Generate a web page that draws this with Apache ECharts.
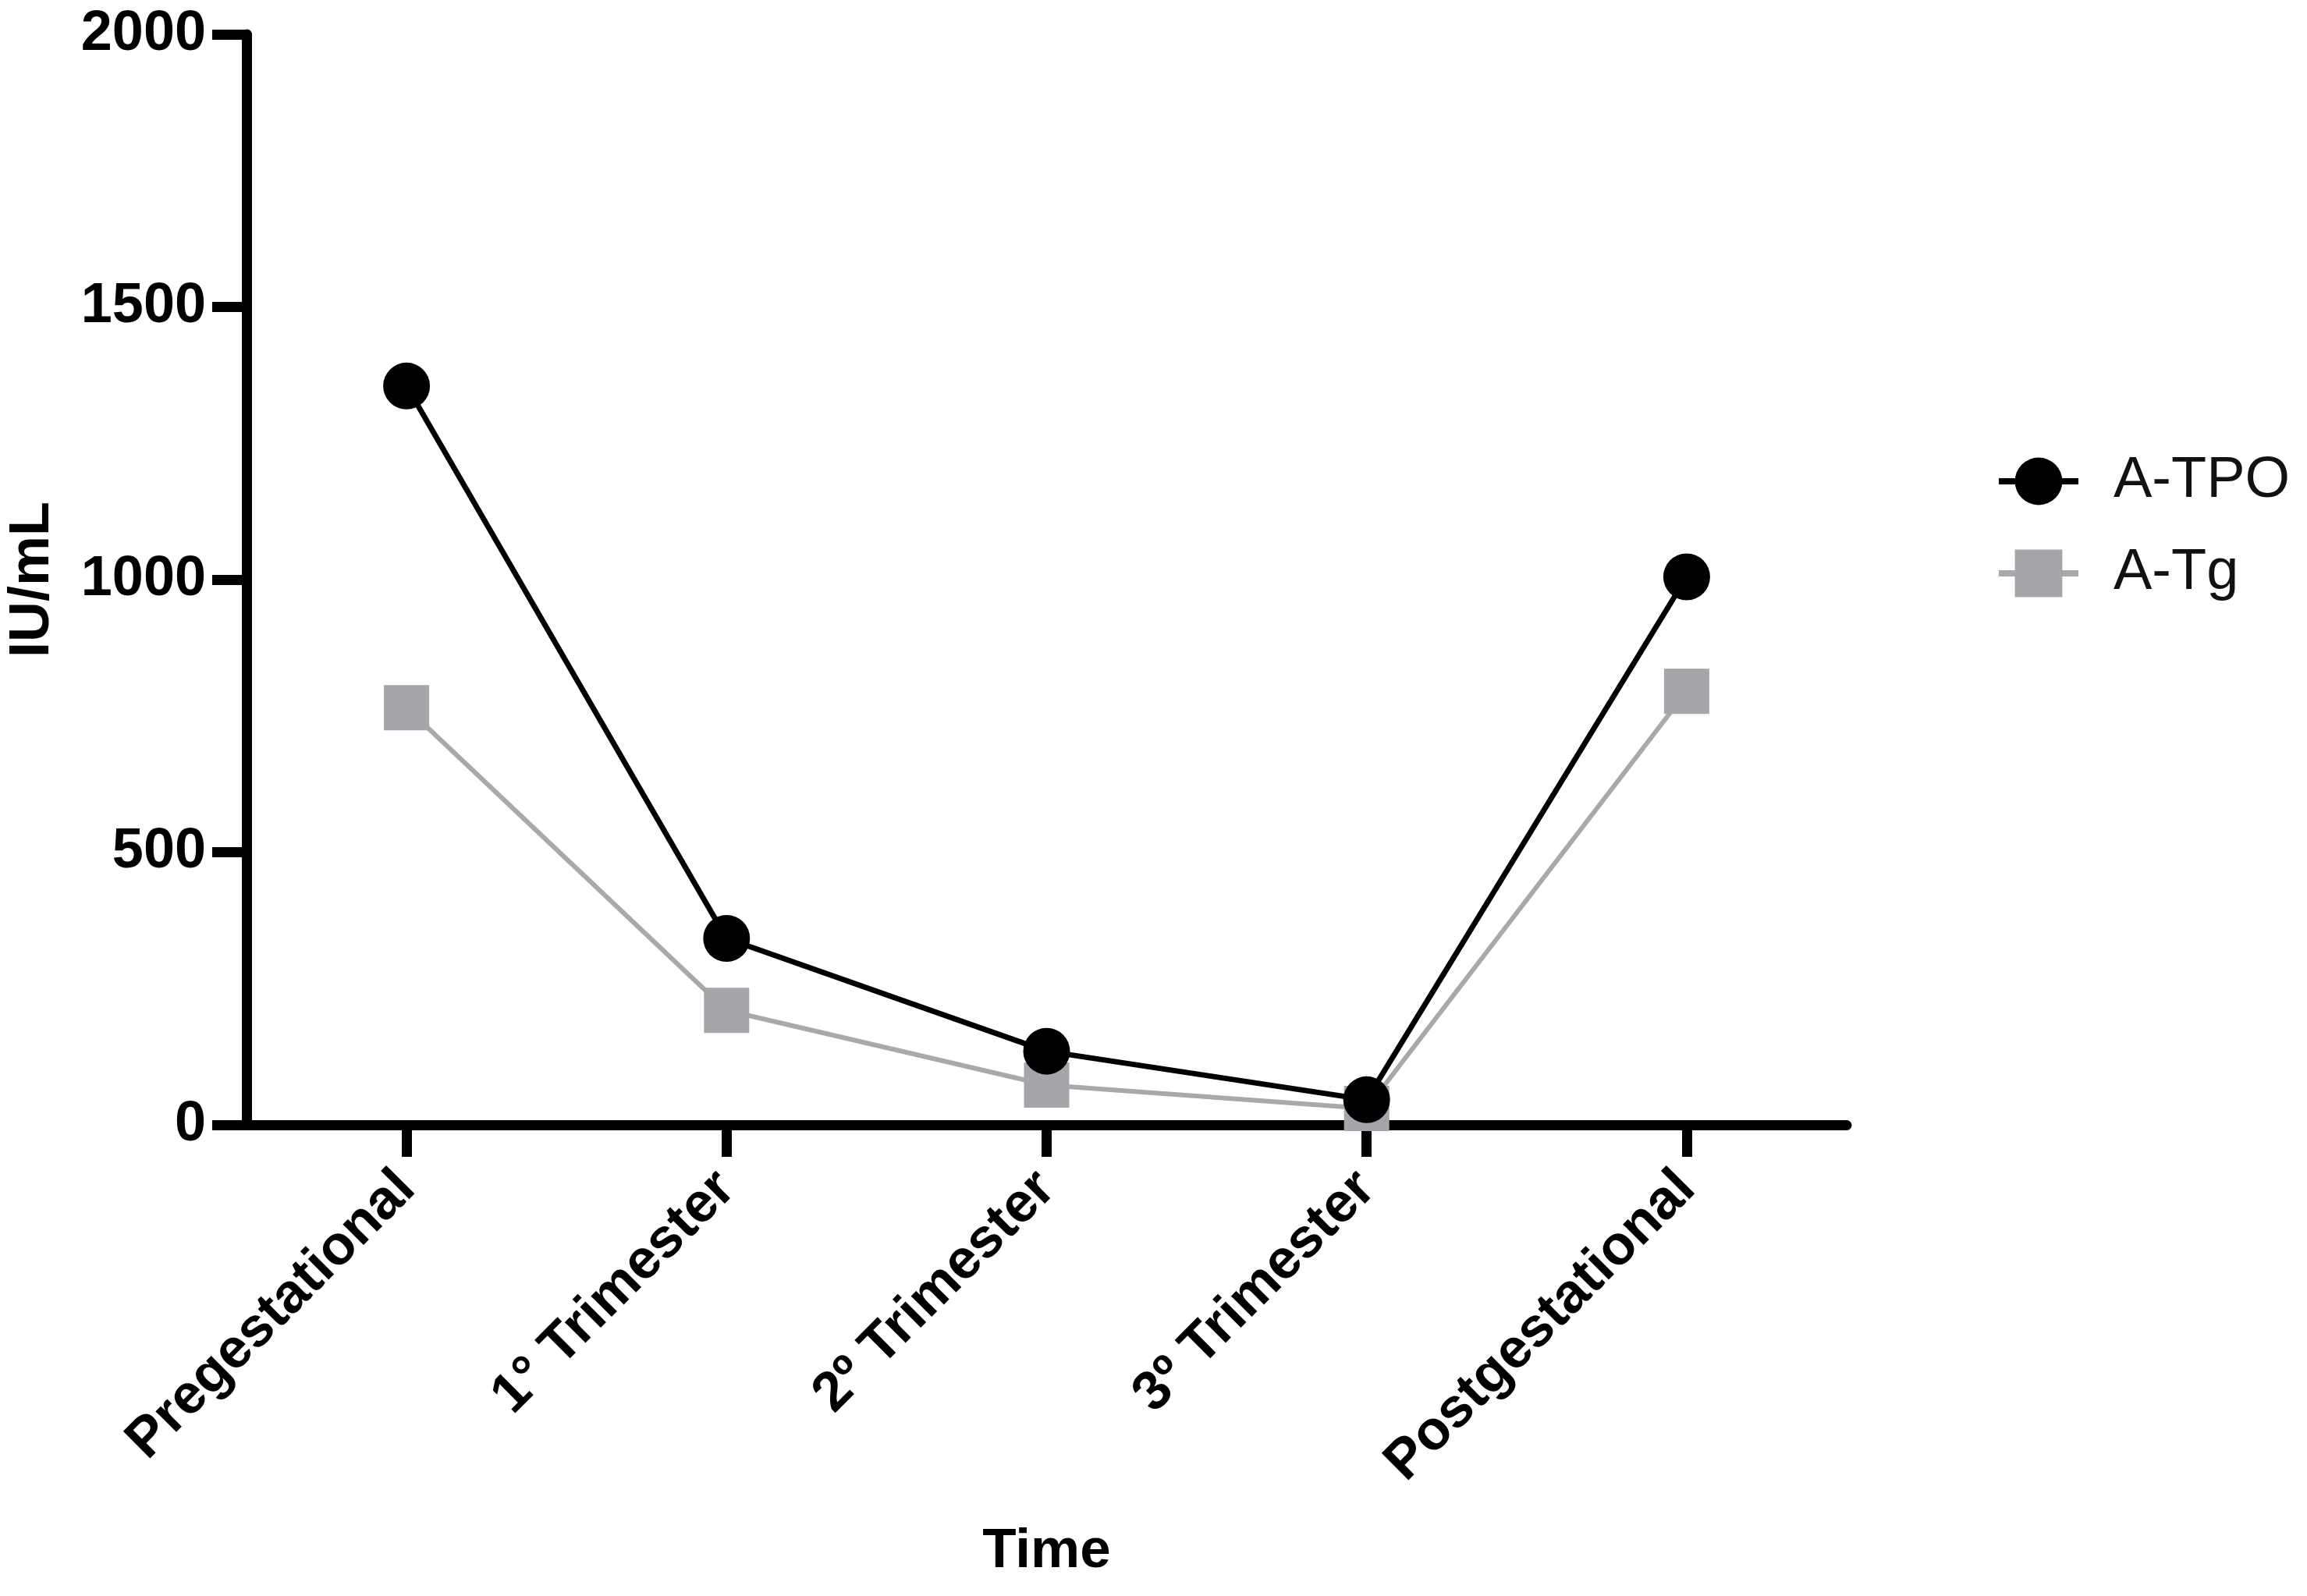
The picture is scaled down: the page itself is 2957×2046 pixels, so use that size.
<!DOCTYPE html>
<html>
<head>
<meta charset="utf-8">
<script src="https://cdn.jsdelivr.net/npm/echarts@6/dist/echarts.min.js"></script>
<style>
html,body{margin:0;padding:0;background:#fff;}
#chart{width:2957px;height:2046px;}
</style>
</head>
<body>
<div id="chart"></div>
<script>
var categories = ['Pregestational', '1\u00b0 Trimester', '2\u00ba Trimester', '3\u00ba Trimester', 'Postgestational'];
var atpo = [1355, 342, 135, 46, 1005];
var atg = [765, 210, 73, 30, 795];
var yTicks = [0, 500, 1000, 1500, 2000];

var FONT = '"Liberation Sans", Arial, Helvetica, sans-serif';
var chart = echarts.init(document.getElementById('chart'), null, {renderer: 'canvas'});
chart.setOption({
  backgroundColor: '#ffffff',
  animation: false,
  grid: {left: 316, right: 590, top: 44, bottom: 604, outerBoundsMode: 'none', containLabel: false},
  legend: {
    orient: 'vertical',
    left: 2553,
    top: 575,
    itemWidth: 102,
    itemHeight: 76,
    itemGap: 44,
    data: ['A-TPO', 'A-Tg'],
    lineStyle: {width: 8},
    textStyle: {fontFamily: FONT, fontSize: 74, color: '#111', padding: [0, 0, 0, 40]}
  },
  xAxis: {
    type: 'category',
    data: categories,
    boundaryGap: true,
    name: 'Time',
    nameLocation: 'middle',
    nameGap: 512,
    nameTextStyle: {fontFamily: FONT, fontSize: 71, fontWeight: 'bold', color: '#000'},
    axisLine: {show: true, lineStyle: {color: '#000', width: 13}},
    axisTick: {show: true, alignWithLabel: true, length: 41, lineStyle: {color: '#000', width: 13}},
    axisLabel: {rotate: 45, margin: 71, fontFamily: FONT, fontSize: 71, fontWeight: 'bold', color: '#000'},
    splitLine: {show: false}
  },
  yAxis: {
    type: 'value',
    min: yTicks[0],
    max: yTicks[yTicks.length - 1],
    interval: yTicks[1] - yTicks[0],
    name: 'IU/mL',
    nameLocation: 'middle',
    nameRotate: 90,
    nameGap: 238,
    nameTextStyle: {fontFamily: FONT, fontSize: 72, fontWeight: 'bold', color: '#000'},
    axisLine: {show: true, lineStyle: {color: '#000', width: 13}},
    axisTick: {show: true, length: 44, lineStyle: {color: '#000', width: 13}},
    axisLabel: {margin: 52, fontFamily: FONT, fontSize: 72, fontWeight: 'bold', color: '#000',
      formatter: function (v) { return String(v); }},
    splitLine: {show: false}
  },
  series: [
    {
      name: 'A-Tg',
      type: 'line',
      data: atg,
      symbol: 'rect',
      symbolSize: 58,
      clip: false,
      z: 3,
      lineStyle: {color: '#a9a9a9', width: 6},
      itemStyle: {color: '#a6a6aa'}
    },
    {
      name: 'A-TPO',
      type: 'line',
      data: atpo,
      symbol: 'circle',
      symbolSize: 60,
      clip: false,
      z: 4,
      lineStyle: {color: '#000', width: 7},
      itemStyle: {color: '#000'}
    }
  ]
});
</script>
</body>
</html>
